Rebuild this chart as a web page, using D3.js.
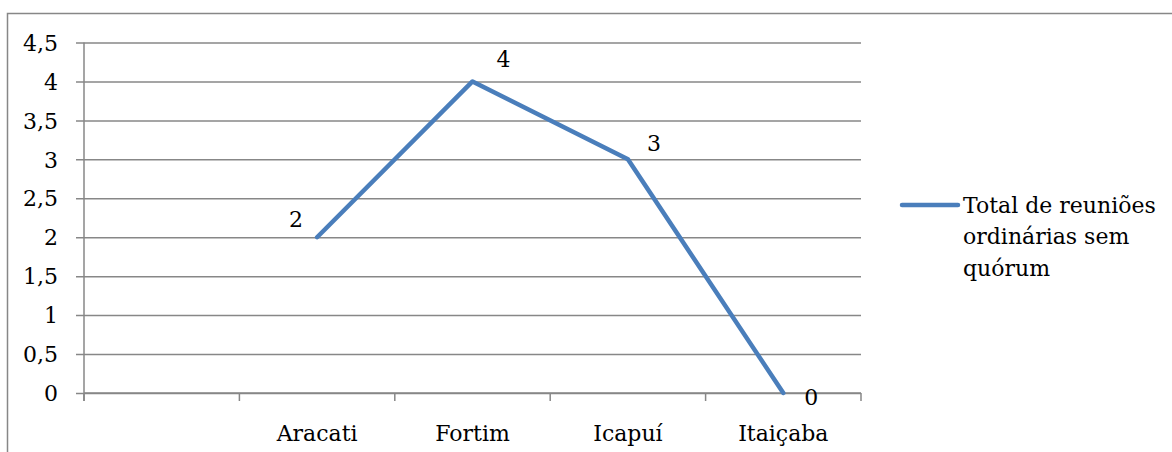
<!DOCTYPE html>
<html>
<head>
<meta charset="utf-8">
<script src="https://cdn.jsdelivr.net/npm/d3@7"></script>
<style>
  html, body { margin: 0; padding: 0; background: #fff; }
  svg { display: block; }
  text { font-family: "DejaVu Serif", "Liberation Serif", serif; fill: #000; }
</style>
</head>
<body>
<svg id="chart" width="1172" height="452"></svg>
<script>
// Municipalities (first slot is an unlabeled empty category)
const categories = ["", "Aracati", "Fortim", "Icapuí", "Itaiçaba"];
// Total de reuniões ordinárias sem quórum
const values = [null, 2, 4, 3, 0];
const yTicks = [0, 0.5, 1, 1.5, 2, 2.5, 3, 3.5, 4, 4.5];
const seriesName = ["Total de reuniões", "ordinárias sem", "quórum"];

const svg = d3.select("#chart");
const W = 1172, H = 452;
const plot = { left: 84, right: 861, top: 42.5, bottom: 393 };
const fontSize = 22;
const blue = "#4a7ebb";
const grey = "#878787";

// outer chart frame (runs past the right and bottom edges)
svg.append("rect")
  .attr("x", 7.5).attr("y", 13.5)
  .attr("width", W + 20).attr("height", H + 20)
  .attr("fill", "none").attr("stroke", grey).attr("stroke-width", 1.5);

const x = d3.scaleBand().domain(categories).range([plot.left, plot.right]).padding(0);
const y = d3.scaleLinear().domain([0, 4.5]).range([plot.bottom, plot.top]);

const fmt = d => String(d).replace(".", ",");

// horizontal gridlines + y labels
const yAxis = d3.axisLeft(y).tickValues(yTicks).tickFormat(fmt)
  .tickSize(-(plot.right - plot.left)).tickSizeOuter(0).tickPadding(18);
const gy = svg.append("g").attr("transform", `translate(${plot.left},0)`).call(yAxis);
gy.select(".domain").remove();
gy.selectAll(".tick line").attr("stroke", grey).attr("stroke-width", 1.5).attr("x1", -8);
gy.selectAll(".tick text").style("font-size", fontSize + "px")
  .attr("font-family", "DejaVu Serif").attr("x", -26).attr("dy", "0.35em");

// vertical axis line
svg.append("line")
  .attr("x1", plot.left).attr("x2", plot.left)
  .attr("y1", plot.top).attr("y2", plot.bottom + 8)
  .attr("stroke", grey).attr("stroke-width", 1.5);

// category axis with tick marks on band edges
const gx = svg.append("g").attr("transform", `translate(0,${plot.bottom})`);
gx.append("line").attr("x1", plot.left).attr("x2", plot.right)
  .attr("stroke", grey).attr("stroke-width", 1.5);
const edges = categories.map(c => x(c)).concat([x(categories[categories.length - 1]) + x.bandwidth()]);
gx.selectAll("line.tk").data(edges).join("line").attr("class", "tk")
  .attr("x1", d => d).attr("x2", d => d).attr("y1", 0).attr("y2", 8)
  .attr("stroke", grey).attr("stroke-width", 1.5);
gx.selectAll("text").data(categories).join("text")
  .attr("x", d => x(d) + x.bandwidth() / 2)
  .attr("y", 40).attr("dy", "0.35em")
  .attr("text-anchor", "middle").style("font-size", fontSize + "px")
  .text(d => d);

// series line
const pts = categories.map((c, i) => ({ c, v: values[i] })).filter(d => d.v !== null);
const line = d3.line().x(d => x(d.c) + x.bandwidth() / 2).y(d => y(d.v));
svg.append("path").datum(pts)
  .attr("d", line).attr("fill", "none")
  .attr("stroke", blue).attr("stroke-width", 4.5)
  .attr("stroke-linejoin", "round").attr("stroke-linecap", "round");

// value labels
const labelOffsets = [[-21, -18], [31, -22], [26, -16], [28, 4]];
svg.selectAll("text.val").data(pts).join("text").attr("class", "val")
  .attr("x", (d, i) => x(d.c) + x.bandwidth() / 2 + labelOffsets[i][0])
  .attr("y", (d, i) => y(d.v) + labelOffsets[i][1])
  .attr("dy", "0.35em").attr("text-anchor", "middle")
  .style("font-size", fontSize + "px")
  .text(d => fmt(d.v));

// legend
const lg = svg.append("g").attr("transform", "translate(902,205)");
lg.append("line").attr("x1", 0).attr("x2", 56).attr("y1", 0).attr("y2", 0)
  .attr("stroke", blue).attr("stroke-width", 4.5).attr("stroke-linecap", "round");
lg.selectAll("text").data(seriesName).join("text")
  .attr("x", 61).attr("y", (d, i) => i * 31.5).attr("dy", "0.35em")
  .style("font-size", fontSize + "px")
  .text(d => d);
</script>
</body>
</html>
